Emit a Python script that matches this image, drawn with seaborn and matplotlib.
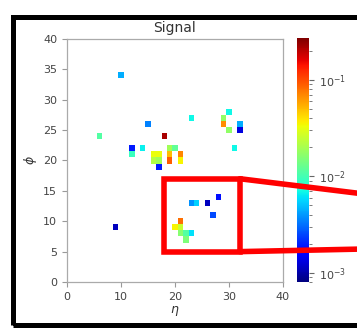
import numpy as np
import pandas as pd
import matplotlib
matplotlib.use("Agg")
import matplotlib.pyplot as plt
import seaborn as sns
from matplotlib.colors import LogNorm
from matplotlib.patches import Rectangle, ConnectionPatch

# ---------------- data ----------------
ETA = [10, 15, 6, 18, 12, 12, 14, 23, 30, 29, 29, 30, 32, 32, 31,
       16, 17, 16, 17, 17, 19, 20, 19, 19, 21, 21,
       9, 23, 24, 26, 28, 27, 21, 20, 21, 21, 22, 23, 22]
PHI = [34, 26, 24, 24, 22, 21, 22, 27, 28, 27, 26, 25, 26, 25, 22,
       21, 21, 20, 20, 19, 22, 22, 21, 20, 21, 20,
       9, 13, 13, 13, 14, 11, 10, 9, 9, 8, 8, 8, 7]
VALUES = [0.0045, 0.0035, 0.011, 0.22, 0.0019, 0.0092, 0.0065, 0.0068, 0.0068,
          0.017, 0.066, 0.017, 0.0045, 0.0013, 0.0068,
          0.032, 0.032, 0.022, 0.019, 0.0019, 0.019, 0.012, 0.05, 0.09, 0.07, 0.035,
          0.0011, 0.0038, 0.0055, 0.0011, 0.0018, 0.0025, 0.08, 0.035, 0.025,
          0.016, 0.011, 0.006, 0.015]
N_BINS = 41
VMIN, VMAX = 8e-4, 0.27
XTICKS = [0, 10, 20, 30, 40]
YTICKS = [0, 5, 10, 15, 20, 25, 30, 35, 40]
ZOOM_ETA = (18, 32)
ZOOM_PHI = (5, 17)

# ---------------- style ----------------
sns.set_style("ticks")
plt.rcParams["font.family"] = ["DejaVu Sans"]

fig = plt.figure(figsize=(3.57, 3.29), dpi=100)
W, H = 357, 329
ax = fig.add_axes([67 / W, 1 - 282 / H, 216 / W, 243 / H])
cax = fig.add_axes([297 / W, 1 - 282 / H, 12 / W, 244 / H])

grid = np.full((N_BINS, N_BINS), np.nan)
for e, p, v in zip(ETA, PHI, VALUES):
    grid[p, e] = v
df = pd.DataFrame(grid, index=range(N_BINS), columns=range(N_BINS))

sns.heatmap(df, ax=ax, cbar_ax=cax, cmap="jet",
            norm=LogNorm(vmin=VMIN, vmax=VMAX), mask=df.isna(),
            xticklabels=False, yticklabels=False)

# cells are centred on integer coordinates
off = 0.5
ax.set_xlim(0 + off, 40 + off)
ax.set_ylim(0 + off, 40 + off)
ax.set_xticks([t + off for t in XTICKS], labels=[str(t) for t in XTICKS])
ax.set_yticks([t + off for t in YTICKS], labels=[str(t) for t in YTICKS])
for s in ax.spines.values():
    s.set_visible(True)
    s.set_color("#aaaaaa")
    s.set_linewidth(0.9)
ax.tick_params(axis="both", which="both", colors="#999999", labelcolor="#444444",
               labelsize=8, length=3.5, width=0.8, left=True, bottom=True)

ax.set_title("Signal", fontsize=10, color="#333333", pad=5)
ax.set_xlabel(r"$\eta$", fontsize=9, color="#333333", labelpad=2)
ax.set_ylabel(r"$\phi$", fontsize=9, color="#333333", labelpad=3)

cax.tick_params(which="both", colors="#666666", labelcolor="#444444", labelsize=8)

# zoom rectangle
rect = Rectangle((ZOOM_ETA[0] + off, ZOOM_PHI[0] + off),
                 ZOOM_ETA[1] - ZOOM_ETA[0], ZOOM_PHI[1] - ZOOM_PHI[0],
                 fill=False, edgecolor="red", linewidth=4, zorder=10, clip_on=False)
ax.add_patch(rect)

for phi_corner, yfig in [(ZOOM_PHI[1], 1 - 194 / H), (ZOOM_PHI[0], 1 - 249 / H)]:
    con = ConnectionPatch(xyA=(ZOOM_ETA[1] + off, phi_corner + off), coordsA="data", axesA=ax,
                          xyB=(1.02, yfig), coordsB="figure fraction",
                          color="red", linewidth=4, zorder=20)
    fig.add_artist(con)

# black outer frame
frame = Rectangle((12.5 / W, 1 - 325 / H), 2.0, (325 - 16.7) / H,
                  transform=fig.transFigure, fill=False, edgecolor="black",
                  linewidth=3.6, zorder=30)
fig.add_artist(frame)

fig.savefig("out.png", dpi=100)
